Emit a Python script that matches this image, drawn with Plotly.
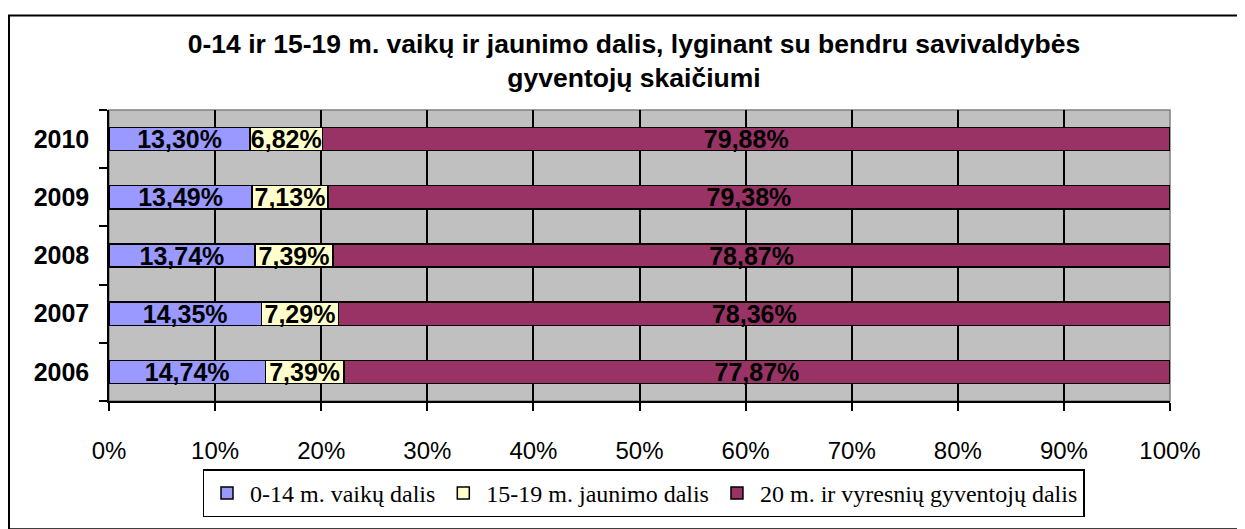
import plotly.graph_objects as go

years = ["2006", "2007", "2008", "2009", "2010"]
children_0_14 = [14.74, 14.35, 13.74, 13.49, 13.30]
youth_15_19 = [7.39, 7.29, 7.39, 7.13, 6.82]
adults_20 = [77.87, 78.36, 78.87, 79.38, 79.88]
series_names = ["0-14 m. vaikų dalis", "15-19 m. jaunimo dalis", "20 m. ir vyresnių gyventojų dalis"]
series_colors = ["#9999FF", "#FFFFCC", "#993366"]
x_tick_values = [0, 10, 20, 30, 40, 50, 60, 70, 80, 90, 100]
x_tick_labels = ["0%", "10%", "20%", "30%", "40%", "50%", "60%", "70%", "80%", "90%", "100%"]

# the page body adds an 8px offset; the figure is sized to compensate
OFF = 8
W, H = 1245 - OFF, 529 - OFF
L, R, T, B = 101, 75, 102, 117
pw, ph = W - L - R, H - T - B

def px_x(p):  # reference screenshot px -> paper x
    return (p - OFF - L) / pw

def px_y(p):  # reference screenshot px -> paper y
    return (H - B - (p - OFF)) / ph

fig = go.Figure()
for name, vals, col in zip(series_names, [children_0_14, youth_15_19, adults_20], series_colors):
    fig.add_trace(go.Bar(
        y=years, x=vals, name=name, orientation="h",
        marker=dict(color=col, line=dict(color="black", width=1.5)),
        texttemplate="%{x:.2f}%", textposition="inside", insidetextanchor="middle",
        textfont=dict(family="Liberation Sans, Arial", size=25, color="black", weight="bold"),
        constraintext="none", hoverinfo="skip",
    ))

fig.update_layout(
    width=W, height=H,
    margin=dict(l=L, r=R, t=T, b=B),
    barmode="stack", bargap=0.6,
    separators=",.",
    paper_bgcolor="white", plot_bgcolor="#C0C0C0",
    uniformtext=dict(minsize=25, mode="show"),
    title=dict(
        text="0-14 ir 15-19 m. vaikų ir jaunimo dalis, lyginant su bendru savivaldybės<br>gyventojų skaičiumi",
        x=px_x(634), xref="paper", xanchor="center",
        y=1 - 45 / H, yref="container", yanchor="top",
        font=dict(family="Liberation Sans, Arial", size=26.5, color="black", weight="bold"),
    ),
    xaxis=dict(
        range=[0, 100], tickmode="array", tickvals=x_tick_values, ticktext=x_tick_labels,
        showgrid=True, gridcolor="black", gridwidth=1.5,
        showline=True, linecolor="black", linewidth=1.5,
        ticks="outside", ticklen=8, tickcolor="black", tickwidth=1.5,
        ticklabelstandoff=19,
        tickfont=dict(family="Liberation Sans, Arial", size=24, color="black"),
        zeroline=False, fixedrange=True,
    ),
    yaxis=dict(
        type="category", categoryorder="array", categoryarray=years,
        tickson="boundaries", ticks="outside", ticklen=8, tickcolor="black", tickwidth=1.5,
        showgrid=False, showline=True, linecolor="black", linewidth=1.5,
        ticklabelstandoff=13,
        tickfont=dict(family="Liberation Sans, Arial", size=25, color="black", weight="bold"),
        fixedrange=True,
    ),
    legend=dict(
        orientation="h", x=px_x(643.5), xanchor="center", y=px_y(483), yanchor="top",
        bordercolor="black", borderwidth=1.5, bgcolor="white",
        font=dict(family="Liberation Serif, Times New Roman", size=24, color="black"),
        traceorder="normal", itemwidth=36,
    ),
    shapes=[
        dict(type="rect", xref="paper", yref="paper", x0=0, x1=1, y0=0, y1=1,
             line=dict(color="#808080", width=1.5), layer="between"),
        dict(type="rect", xref="paper", yref="paper",
             x0=px_x(9), x1=px_x(1262), y0=px_y(545), y1=px_y(12),
             line=dict(color="black", width=2), layer="above"),
    ],
    showlegend=True,
)

fig.write_html("out.html")
